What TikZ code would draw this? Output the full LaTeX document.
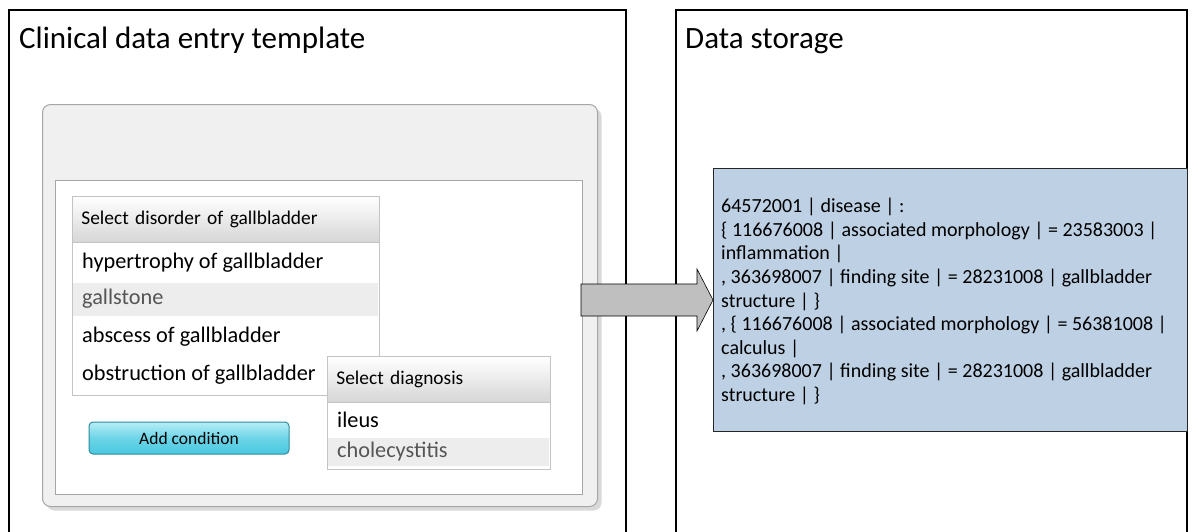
\documentclass[tikz,border=0pt]{standalone}
\usepackage{fontspec}
\setmainfont{Carlito}
\usetikzlibrary{calc}

\definecolor{panelgray}{HTML}{F0F0F0}
\definecolor{shadowgray}{HTML}{D9D9D9}
\definecolor{bordergray}{HTML}{A6A6A6}
\definecolor{boxgray}{HTML}{C4C4C4}
\definecolor{headgray}{HTML}{D6D6D6}
\definecolor{rowgray}{HTML}{EDEDED}
\definecolor{itemgray}{HTML}{555555}
\definecolor{btntop}{HTML}{B8EEF7}
\definecolor{btnbot}{HTML}{4BC9E0}
\definecolor{btnedge}{HTML}{2B8C9C}
\definecolor{storeblue}{HTML}{BED0E4}
\definecolor{arrowgray}{HTML}{BFBFBF}

\begin{document}
\begin{tikzpicture}[x=1pt,y=-1pt,
  frame/.style={draw=black,line width=1.1pt},
  title/.style={anchor=base west,inner sep=0,font=\fontsize{31}{36}\selectfont},
  panelbox/.style={anchor=north west,minimum width=555,minimum height=402,rounded corners=8,line width=1pt},
  listbox/.style={anchor=north west,draw=boxgray,fill=white,line width=0.8pt},
  listhead/.style={anchor=north west,minimum height=46,text width=#1,inner xsep=9,align=left,
    top color=white,bottom color=headgray,draw=boxgray,line width=0.8pt,font=\fontsize{19.4}{22}\selectfont},
  item/.style={anchor=west,inner sep=0,font=\fontsize{22.3}{26}\selectfont},
  button/.style={minimum width=200,minimum height=32,rounded corners=4,draw=btnedge,line width=1pt,
    top color=btntop,bottom color=btnbot,middle color=btnbot!70!btntop,font=\fontsize{17.5}{20}\selectfont},
  store/.style={anchor=north west,minimum width=474,minimum height=263,fill=storeblue,draw=black!85,line width=1pt}
]
\useasboundingbox (0,0) rectangle (1198,531);

% two frames
\draw[frame] (9,545) -- (9,10) -- (626,10) -- (626,545);
\node[title] (lefttitle) at (19,48) {Clinical data entry template};
\draw[frame] (676,545) -- (676,10) -- (1187,10) -- (1187,545);
\node[title] (righttitle) at (685,48) {Data storage};

% form panel
\node[panelbox,fill=shadowgray] (shadow) at (46,108) {};
\node[panelbox,fill=panelgray,draw=bordergray] (panel) at (42,104) {};
\node[anchor=north west,minimum width=527,minimum height=314,fill=white,draw=bordergray,line width=0.8pt] (form) at (55,180) {};

% list of disorders
\node[listbox,minimum width=307,minimum height=199] (dislist) at (72,196) {};
\node[listhead=289] (dishead) at (72,196) {Select disorder of gallbladder};
\fill[rowgray] (73,283) rectangle (378,316);
\node[item] (hyper) at (82,263) {hypertrophy of gallbladder};
\node[item,text=itemgray] (stone) at (82,299) {gallstone};
\node[item] (absc) at (82,337) {abscess of gallbladder};
\node[item] (obst) at (82,375) {obstruction of gallbladder};

% list of diagnoses
\node[listbox,minimum width=223,minimum height=113] (diaglist) at (327,356) {};
\node[listhead=205] (diaghead) at (327,356) {Select diagnosis};
\fill[rowgray] (328,438) rectangle (549,466);
\node[item] (ileus) at (337,420) {ileus};
\node[item,text=itemgray] (chole) at (337,452) {cholecystitis};

% button
\node[button] (add) at (189,438) {Add condition};

% stored expression
\node[store] (store) at (713,168) {};
\node[anchor=north west,inner sep=0,align=left,font=\fontsize{20}{23.6}\selectfont] (expr) at (721,198)
  {64572001 | disease | :\\
   \{ 116676008 | associated morphology | = 23583003 |\\
   inflammation |\\
   , 363698007 | finding site | = 28231008 | gallbladder\\
   structure | \}\\
   , \{ 116676008 | associated morphology | = 56381008 |\\
   calculus |\\
   , 363698007 | finding site | = 28231008 | gallbladder\\
   structure | \}};

% block arrow into storage
\draw[fill=arrowgray,line width=0.6pt] (store.west) -- ++(-16,-31) -- ++(0,15) -- ++(-116,0)
  -- ++(0,32) -- ++(116,0) -- ++(0,15) -- cycle;
\end{tikzpicture}
\end{document}
